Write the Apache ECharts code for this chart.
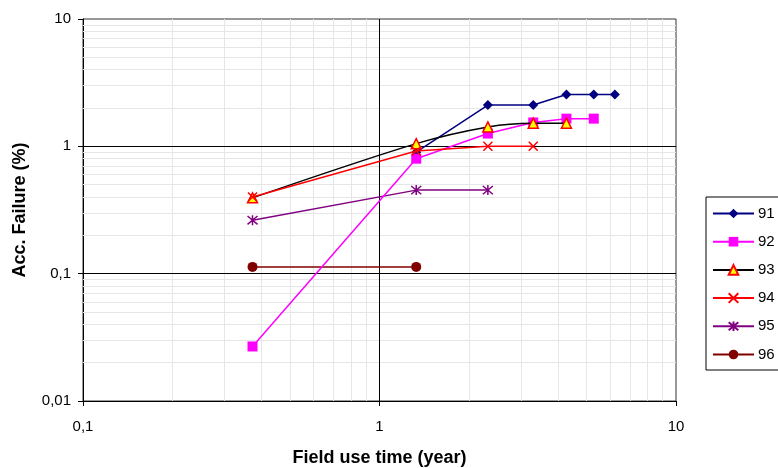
<!DOCTYPE html>
<html>
<head>
<meta charset="utf-8">
<script src="https://cdn.jsdelivr.net/npm/echarts@6/dist/echarts.min.js"></script>
<style>html,body{margin:0;padding:0;background:#fff;}#c{width:778px;height:468px;}</style>
</head>
<body>
<div id="c"></div>
<script>
// ---- data ----
const seriesNames = ['91', '92', '93', '94', '95', '96'];
const s91x = [1.33, 2.32, 3.3, 4.27, 5.28, 6.22];
const s91y = [0.90, 2.11, 2.11, 2.55, 2.55, 2.55];
const s92x = [0.373, 1.33, 2.32, 3.3, 4.27, 5.28];
const s92y = [0.0268, 0.80, 1.26, 1.54, 1.65, 1.65];
const s93x = [0.373, 1.33, 2.32, 3.3, 4.27];
const s93y = [0.394, 1.05, 1.42, 1.52, 1.52];
const s94x = [0.373, 1.33, 2.32, 3.3];
const s94y = [0.40, 0.92, 1.0, 1.0];
const s95x = [0.373, 1.33, 2.32];
const s95y = [0.263, 0.453, 0.453];
const s96x = [0.373, 1.33];
const s96y = [0.113, 0.113];

// grid-line positions (axis ticks)
const xMinorGrid = [0.2,0.3,0.4,0.5,0.6,0.7,0.8,0.9,2,3,4,5,6,7,8,9];
const yMinorGrid = [0.02,0.03,0.04,0.05,0.06,0.07,0.08,0.09,0.2,0.3,0.4,0.5,0.6,0.7,0.8,0.9,2,3,4,5,6,7,8,9];
const xMajorGrid = [1];
const yMajorGrid = [0.1, 1];

function pairs(xs, ys) { return xs.map((x, i) => [x, ys[i]]); }

const asterisk = 'path://M0 0L10 10M10 0L0 10M5 -1L5 11';
const cross = 'path://M0 0L10 10M10 0L0 10';

const gridLines = [];
xMinorGrid.forEach(v => gridLines.push({xAxis: v, lineStyle: {color: '#e6e6e6', width: 1, type: 'solid'}}));
yMinorGrid.forEach(v => gridLines.push({yAxis: v, lineStyle: {color: '#e6e6e6', width: 1, type: 'solid'}}));
xMajorGrid.forEach(v => gridLines.push({xAxis: v, lineStyle: {color: '#000', width: 1, type: 'solid'}}));
yMajorGrid.forEach(v => gridLines.push({yAxis: v, lineStyle: {color: '#000', width: 1, type: 'solid'}}));

const fmt = v => String(v).replace('.', ',');
const FONT = 'Liberation Sans, Arial, sans-serif';

const chart = echarts.init(document.getElementById('c'), null, {renderer: 'canvas'});
chart.setOption({
  animation: false,
  backgroundColor: '#fff',
  textStyle: {fontFamily: FONT},
  grid: {left: 83, right: 102, top: 19, bottom: 67, containLabel: false, outerBoundsMode: 'none',
    show: true, borderColor: '#333', borderWidth: 1, backgroundColor: 'transparent'},
  xAxis: {
    type: 'log', logBase: 10, min: 0.1, max: 10,
    name: 'Field use time (year)', nameLocation: 'middle', nameGap: 48,
    nameTextStyle: {fontFamily: FONT, fontSize: 18, fontWeight: 'bold', color: '#000'},
    axisLine: {show: true, lineStyle: {color: '#000', width: 1}},
    axisTick: {show: true, inside: false, length: 5, lineStyle: {color: '#000'}},
    axisLabel: {formatter: fmt, fontFamily: FONT, fontSize: 15, color: '#000', margin: 18},
    splitLine: {show: false}
  },
  yAxis: {
    type: 'log', logBase: 10, min: 0.01, max: 10,
    name: 'Acc. Failure (%)', nameLocation: 'middle', nameGap: 54,
    nameTextStyle: {fontFamily: FONT, fontSize: 18, fontWeight: 'bold', color: '#000'},
    axisLine: {show: true, lineStyle: {color: '#000', width: 1}},
    axisTick: {show: true, inside: false, length: 5, lineStyle: {color: '#000'}},
    axisLabel: {formatter: fmt, fontFamily: FONT, fontSize: 15, color: '#000', margin: 12},
    splitLine: {show: false}
  },
  legend: {
    data: seriesNames,
    orient: 'vertical', left: 706, top: 197,
    padding: [9, 12, 8, 6],
    itemWidth: 41, itemHeight: 12, itemGap: 13.2,
    borderColor: '#000', borderWidth: 1,
    textStyle: {fontFamily: FONT, fontSize: 15, color: '#000', padding: [0, 0, 0, -1]}
  },
  series: [
    {
      name: 'grid', type: 'line', data: [], z: 1, silent: true,
      markLine: {silent: true, symbol: ['none', 'none'], label: {show: false}, animation: false, data: gridLines}
    },
    {name: '91', type: 'line', data: pairs(s91x, s91y), z: 5, symbol: 'diamond', symbolSize: 10,
      lineStyle: {color: '#000080', width: 1.5}, itemStyle: {color: '#000080'}},
    {name: '92', type: 'line', data: pairs(s92x, s92y), z: 6, symbol: 'rect', symbolSize: 10,
      lineStyle: {color: '#ff00ff', width: 1.5}, itemStyle: {color: '#ff00ff'}},
    {name: '93', type: 'line', data: pairs(s93x, s93y), z: 7, symbol: 'triangle', symbolSize: 10, smooth: 0.3,
      lineStyle: {color: '#000', width: 1.5}, itemStyle: {color: '#ffff00', borderColor: '#ff0000', borderWidth: 1.5}},
    {name: '94', type: 'line', data: pairs(s94x, s94y), z: 8, symbol: cross, symbolSize: 9,
      lineStyle: {color: '#ff0000', width: 1.5}, itemStyle: {color: '#ff0000', borderColor: '#ff0000', borderWidth: 1.5}},
    {name: '95', type: 'line', data: pairs(s95x, s95y), z: 5, symbol: asterisk, symbolSize: 10,
      lineStyle: {color: '#800080', width: 1.5}, itemStyle: {color: '#800080', borderColor: '#800080', borderWidth: 1.5}},
    {name: '96', type: 'line', data: pairs(s96x, s96y), z: 5, symbol: 'circle', symbolSize: 10,
      lineStyle: {color: '#800000', width: 1.5}, itemStyle: {color: '#800000'}}
  ]
});
</script>
</body>
</html>
